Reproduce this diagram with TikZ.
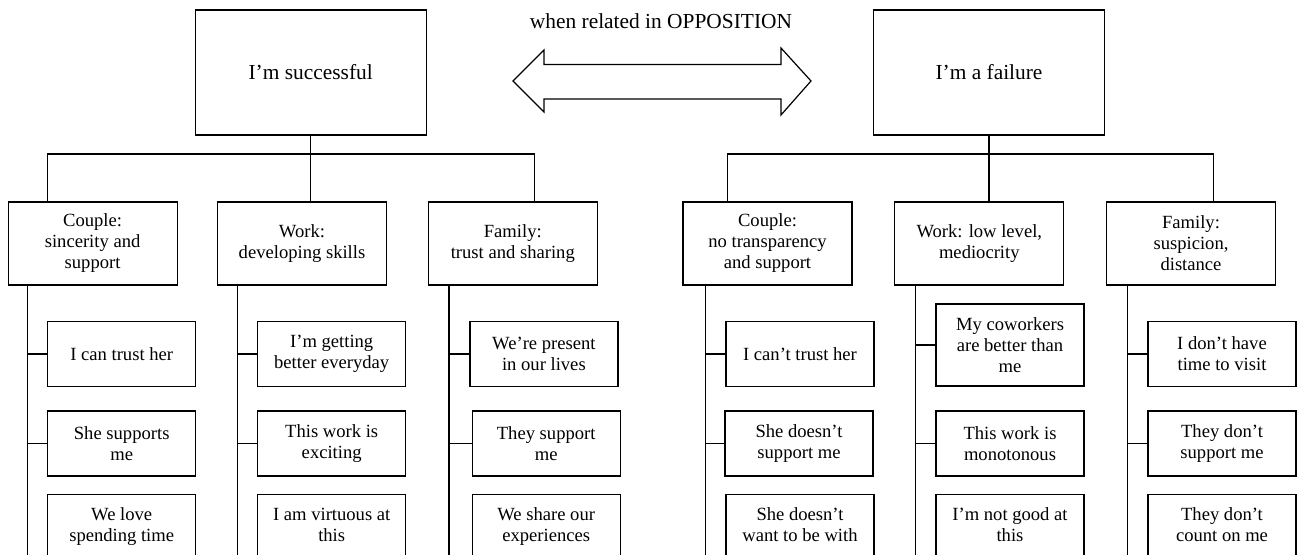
\documentclass[tikz,border=0pt]{standalone}
\usepackage{fontspec}
\setmainfont{Liberation Serif}
\newcommand{\leaftext}[1]{\parbox[t][60pt][t]{70pt}{\centering\strut #1}}

\begin{document}
\begin{tikzpicture}[x=0.5pt, y=-0.5pt, line width=0.6pt, top/.style = {rectangle, draw, minimum width=115.5pt, minimum height=62.5pt, font=\fontsize{10.7}{12.8}\selectfont}, cat/.style = {rectangle, draw, align=center, minimum width=84.5pt, minimum height=41.5pt, inner sep=2pt, font=\fontsize{9.3}{10.5}\selectfont}, leaf/.style = {rectangle, draw, align=center, minimum width=74pt, minimum height=32.5pt, inner sep=2pt, font=\fontsize{9.3}{10.5}\selectfont}, cutleaf/.style = {leaf, anchor=north, inner ysep=5.65pt}, line/.style = {draw}]
			\useasboundingbox (0,0) rectangle (1301,555);
			\clip (0,0) rectangle (1301,555);
			\node[font=\fontsize{10.7}{12.8}\selectfont] (rel) at (661,21) {when related in OPPOSITION};
			\node[top] (succ) at (310.7,72.5) {I’m successful};
			\node[top] (fail) at (989,72.5) {I’m a failure};
			% opposition arrow
			\draw[line join=miter] (513,81) -- (544,50) -- (544,64.5) -- (781,64.5) -- (781,48) -- (811,81) -- (781,115) -- (781,99) -- (544,99) -- (544,112) -- cycle;
			
			\node[cat] (cL1) at (92.6,243.5) {Couple:\\sincerity and\\support};
			\node[cat] (cL2) at (302,243.5) {Work:\\developing skills};
			\node[cat] (cL3) at (512.8,243.5) {Family:\\trust and sharing};
			\node[cat] (cR1) at (767.5,243.5) {Couple:\\no transparency\\and support};
			\node[cat] (cR2) at (979.3,243.5) {Work: low level,\\mediocrity};
			\node[cat] (cR3) at (1191,243.5) {Family:\\suspicion,\\distance};
			
			\node[leaf] (lL11) at (121.7,354) {I can trust her};
			\node[leaf] (lL12) at (121.7,443.5) {She supports\\me};
			\node[cutleaf] (lL13) at (121.7,494) {\leaftext{We love\\spending time}};
			\node[leaf] (lL21) at (331.7,354) {I’m getting\\better everyday};
			\node[leaf] (lL22) at (331.7,443.5) {This work is\\exciting};
			\node[cutleaf] (lL23) at (331.7,494) {\leaftext{I am virtuous at\\this}};
			\node[leaf] (lL31) at (543.9,354) {We’re present\\in our lives};
			\node[leaf] (lL32) at (546.2,443.5) {They support\\me};
			\node[cutleaf] (lL33) at (546.2,494) {\leaftext{We share our\\experiences}};
			\node[leaf] (lR11) at (800,354) {I can’t trust her};
			\node[leaf] (lR12) at (799,443.5) {She doesn’t\\support me};
			\node[cutleaf] (lR13) at (800,494) {\leaftext{She doesn’t\\want to be with}};
			\node[leaf,minimum height=41pt] (lR21) at (1010,345) {My coworkers\\are better than\\me};
			\node[leaf] (lR22) at (1010,443.5) {This work is\\monotonous};
			\node[cutleaf] (lR23) at (1010,494) {\leaftext{I’m not good at\\this}};
			\node[leaf] (lR31) at (1222,354) {I don’t have\\time to visit};
			\node[leaf] (lR32) at (1222,443.5) {They don’t\\support me};
			\node[cutleaf] (lR33) at (1222,494) {\leaftext{They don’t\\count on me}};
			
			% bus lines
			\coordinate (bL1) at (47.7,154);
			\coordinate (bL3) at (534.8,154);
			\coordinate (bR1) at (727.5,154);
			\coordinate (bR3) at (1213.8,154);
			\path[line] (succ.south) -- (succ.south |- cL2.north);
			\path[line] (bL1 |- cL1.north) -- (bL1) -- (bL3) -- (bL3 |- cL3.north);
			\path[line] (fail.south) -- (fail.south |- cR2.north);
			\path[line] (bR1 |- cR1.north) -- (bR1) -- (bR3) -- (bR3 |- cR3.north);
			
			% trunks
			\coordinate (eL1) at (27.4,620);
			\coordinate (eL2) at (237.6,620);
			\coordinate (eL3) at (449,620);
			\coordinate (eR1) at (705.6,620);
			\coordinate (eR2) at (915.3,620);
			\coordinate (eR3) at (1127.6,620);
			\path[line] (eL1 |- cL1.south) -- (eL1);
			\path[line] (eL2 |- cL2.south) -- (eL2);
			\path[line] (eL3 |- cL3.south) -- (eL3);
			\path[line] (eR1 |- cR1.south) -- (eR1);
			\path[line] (eR2 |- cR2.south) -- (eR2);
			\path[line] (eR3 |- cR3.south) -- (eR3);
			
			% branches
			\path[line] (lL11.west -| eL1) -- (lL11.west);
			\path[line] (lL12.west -| eL1) -- (lL12.west);
			\path[line] (lL13.west -| eL1) -- (lL13.west);
			\path[line] (lL21.west -| eL2) -- (lL21.west);
			\path[line] (lL22.west -| eL2) -- (lL22.west);
			\path[line] (lL23.west -| eL2) -- (lL23.west);
			\path[line] (lL31.west -| eL3) -- (lL31.west);
			\path[line] (lL32.west -| eL3) -- (lL32.west);
			\path[line] (lL33.west -| eL3) -- (lL33.west);
			\path[line] (lR11.west -| eR1) -- (lR11.west);
			\path[line] (lR12.west -| eR1) -- (lR12.west);
			\path[line] (lR13.west -| eR1) -- (lR13.west);
			\path[line] (lR21.west -| eR2) -- (lR21.west);
			\path[line] (lR22.west -| eR2) -- (lR22.west);
			\path[line] (lR23.west -| eR2) -- (lR23.west);
			\path[line] (lR31.west -| eR3) -- (lR31.west);
			\path[line] (lR32.west -| eR3) -- (lR32.west);
			\path[line] (lR33.west -| eR3) -- (lR33.west);
\end{tikzpicture}
\end{document}
